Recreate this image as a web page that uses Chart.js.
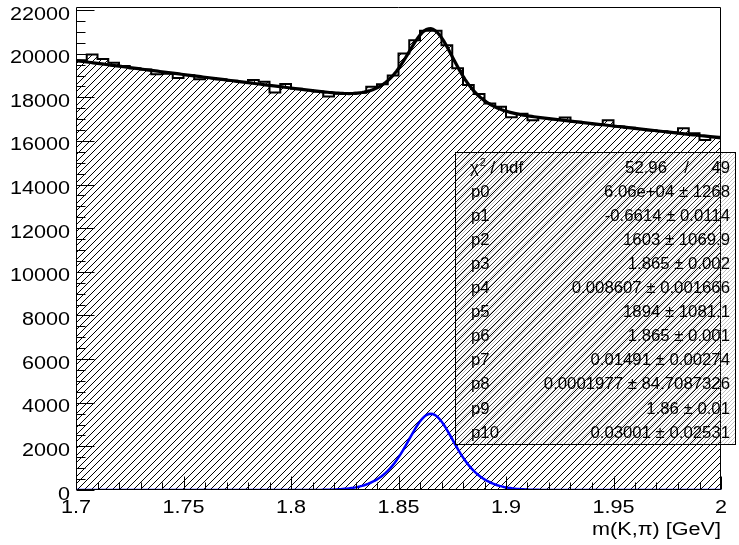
<!DOCTYPE html>
<html>
<head>
<meta charset="utf-8">
<script src="https://cdn.jsdelivr.net/npm/chart.js@4.4.0/dist/chart.umd.min.js"></script>
<style>
  html, body { margin: 0; padding: 0; background: #fff; }
  #wrap { width: 739px; height: 545px; }
</style>
</head>
<body>
<div id="wrap"><canvas id="c" width="739" height="545"></canvas></div>
<script>
// m(K,pi) histogram: 60 bins of 5 MeV between 1.7 and 2.0 GeV
var xMin = 1.7, xMax = 2.0, binWidth = 0.005;
var binCounts = [
  19700, 19960, 19760, 19580, 19430, 19330, 19270, 19060, 19080, 18880,
  19010, 18830, 18890, 18830, 18760, 18700, 18790, 18710, 18220, 18610,
  18390, 18330, 18270, 18040, 18180, 18170, 18210, 18480, 18600, 19000,
  20010, 20620, 21050, 21050, 20390, 19330, 18560, 18150, 17720, 17570,
  17090, 17250, 16950, 17050, 17000, 17080, 16880, 16820, 16770, 16950,
  16660, 16600, 16550, 16490, 16440, 16390, 16580, 16350, 16040, 16190
];

// fit result: expo background + three gaussians
var fitPars = [6.06e4, -0.6614, 1603, 1.865, 0.008607, 1894, 1.865, 0.01491, 0.0001977, 1.86, 0.03001];

// axis ticks
var xTicks = [1.7, 1.75, 1.8, 1.85, 1.9, 1.95, 2.0];
var xTickLabels = ['1.7', '1.75', '1.8', '1.85', '1.9', '1.95', '2'];
var yTicks = [0, 2000, 4000, 6000, 8000, 10000, 12000, 14000, 16000, 18000, 20000, 22000];
var yTickLabels = ['0', '2000', '4000', '6000', '8000', '10000', '12000', '14000', '16000', '18000', '20000', '22000'];
var yMax = 22140;
var xTitle = 'm(K,\u03c0) [GeV]';

// stats box rows
var statNames = ['p0', 'p1', 'p2', 'p3', 'p4', 'p5', 'p6', 'p7', 'p8', 'p9', 'p10'];
var statValues = [
  '6.06e+04 \u00b1 1268', '-0.6614 \u00b1 0.0114', '1603 \u00b1 1069.9', '1.865 \u00b1 0.002',
  '0.008607 \u00b1 0.001666', '1894 \u00b1 1081.1', '1.865 \u00b1 0.001', '0.01491 \u00b1 0.00274',
  '0.0001977 \u00b1 84.7087326', '1.86 \u00b1 0.01', '0.03001 \u00b1 0.02531'
];
var chi2 = '52.96', ndf = '49';

function gaus(x, a, m, s) {
  return a * Math.exp(-0.5 * Math.pow((x - m) / s, 2));
}
function signal(x, p) {
  return gaus(x, p[2], p[3], p[4]) + gaus(x, p[5], p[6], p[7]) + gaus(x, p[8], p[9], p[10]);
}
function total(x, p) {
  return p[0] * Math.exp(p[1] * x) + signal(x, p);
}

// histogram as a stepped line through the bin low edges
var histPts = binCounts.map(function (v, i) {
  return { x: xMin + i * binWidth, y: v };
});
histPts.push({ x: xMax, y: binCounts[binCounts.length - 1] });

var fitPts = [], sigPts = [];
for (var k = 0; k <= 300; k++) {
  var xx = xMin + k * 0.001;
  fitPts.push({ x: xx, y: total(xx, fitPars) });
  sigPts.push({ x: xx, y: signal(xx, fitPars) });
}

function hatch(size, color, width, dash) {
  var c = document.createElement('canvas');
  c.width = size; c.height = size;
  var g = c.getContext('2d');
  g.strokeStyle = color;
  g.lineWidth = width;
  if (dash) g.setLineDash(dash);
  g.beginPath();
  g.moveTo(-1, size + 1); g.lineTo(size + 1, -1);
  g.moveTo(-1, 1); g.lineTo(1, -1);
  g.moveTo(size - 1, size + 1); g.lineTo(size + 1, size - 1);
  g.stroke();
  return g.createPattern(c, 'repeat');
}

var histHatch = hatch(7, '#000', 1);
var boxHatch = hatch(4, 'rgba(120,120,120,0.55)', 0.8);

// axis labels are a bit wider than the plain font
function wideText(ctx, str, x, y, align) {
  ctx.save();
  ctx.translate(x, y);
  ctx.scale(1.2, 1);
  ctx.textAlign = align;
  ctx.fillText(str, 0, 0);
  ctx.restore();
}

var rootFrame = {
  id: 'rootFrame',
  afterDraw: function (chart) {
    var ctx = chart.ctx, a = chart.chartArea;
    var xs = chart.scales.x, ys = chart.scales.y;
    var L = Math.round(a.left) + 0.5, R = Math.round(a.right) - 0.5;
    var T = Math.round(a.top) + 0.5, B = Math.round(a.bottom) - 0.5;
    ctx.save();
    ctx.strokeStyle = '#000';
    ctx.lineWidth = 1;
    ctx.beginPath();
    ctx.moveTo(L, B); ctx.lineTo(L, T); ctx.lineTo(R, T); ctx.lineTo(R, B); ctx.lineTo(L, B);
    ctx.stroke();

    // y ticks: majors from the scale, 4 subdivisions
    var yt = ys.ticks.map(function (t) { return t.value; });
    var ystep = yt[1] - yt[0];
    ctx.beginPath();
    yt.forEach(function (v) {
      var py = Math.round(ys.getPixelForValue(v)) + 0.5;
      ctx.moveTo(L, py); ctx.lineTo(L + 18, py);
      for (var m = 1; m < 4; m++) {
        var vm = v + m * ystep / 4;
        if (vm > ys.max) break;
        var pm = Math.round(ys.getPixelForValue(vm)) + 0.5;
        ctx.moveTo(L, pm); ctx.lineTo(L + 9, pm);
      }
    });
    // x ticks: 5 subdivisions between majors
    var xt = xs.ticks.map(function (t) { return t.value; });
    var xstep = xt[1] - xt[0];
    xt.forEach(function (v) {
      var px = Math.round(xs.getPixelForValue(v)) + 0.5;
      ctx.moveTo(px, B); ctx.lineTo(px, B - 13);
      for (var m = 1; m < 5; m++) {
        var vm = v + m * xstep / 5;
        if (vm > xs.max + 1e-9) break;
        var pm = Math.round(xs.getPixelForValue(vm)) + 0.5;
        ctx.moveTo(pm, B); ctx.lineTo(pm, B - 7);
      }
    });
    ctx.stroke();

    ctx.fillStyle = '#000';
    ctx.font = '18px "Liberation Sans", Arial, sans-serif';
    ctx.textBaseline = 'alphabetic';
    ys.ticks.forEach(function (t) {
      wideText(ctx, t.label, 70, ys.getPixelForValue(t.value) + 9.5, 'right');
    });
    xs.ticks.forEach(function (t) {
      wideText(ctx, t.label, xs.getPixelForValue(t.value), 512.5, 'center');
    });
    wideText(ctx, xTitle, a.right, 535, 'right');

    // stats box
    var bx = 455.5, by = 152.5, bw = 280, bh = 292;
    ctx.fillStyle = boxHatch;
    ctx.fillRect(bx, by, bw, bh);
    ctx.strokeStyle = '#000';
    ctx.strokeRect(bx, by, bw, bh);

    var rowH = 24.1, y0 = 172.5, lx = 470, rx = 730;
    var f = '16.75px "Liberation Sans", Arial, sans-serif';
    ctx.fillStyle = '#000';
    ctx.font = f;
    ctx.textAlign = 'left';
    ctx.fillText('\u03c7', lx, y0);
    var cw = ctx.measureText('\u03c7').width;
    ctx.font = '11px "Liberation Sans", Arial, sans-serif';
    ctx.fillText('2', lx + cw + 1, y0 - 7);
    ctx.font = f;
    ctx.fillText(' / ndf', lx + cw + 7, y0);
    // chi2 / ndf value, spread out like the ROOT latex
    ctx.textAlign = 'right';
    ctx.fillText(ndf, rx, y0);
    ctx.textAlign = 'center';
    ctx.fillText('/', rx - 43.5, y0);
    ctx.textAlign = 'right';
    ctx.fillText(chi2, rx - 63, y0);
    statNames.forEach(function (n, i) {
      var ty = y0 + (i + 1) * rowH;
      ctx.textAlign = 'left';
      ctx.fillText(n, lx + 1, ty);
      ctx.textAlign = 'right';
      ctx.fillText(statValues[i], rx, ty);
    });
    ctx.restore();
  }
};

new Chart(document.getElementById('c'), {
  type: 'line',
  data: {
    datasets: [
      {
        label: 'data',
        data: histPts,
        stepped: true,
        fill: 'origin',
        backgroundColor: histHatch,
        borderColor: '#000',
        borderWidth: 2,
        pointRadius: 0,
        order: 3
      },
      {
        label: 'signal',
        data: sigPts,
        borderColor: '#0000ff',
        borderWidth: 2.5,
        pointRadius: 0,
        fill: false,
        order: 2
      },
      {
        label: 'fit',
        data: fitPts,
        borderColor: '#000',
        borderWidth: 3.2,
        pointRadius: 0,
        fill: false,
        order: 1
      }
    ]
  },
  options: {
    responsive: false,
    animation: false,
    layout: { padding: { left: 76, top: 7, right: 18, bottom: 55 } },
    plugins: { legend: { display: false }, tooltip: { enabled: false } },
    scales: {
      x: {
        type: 'linear', min: xMin, max: xMax,
        ticks: { display: false },
        grid: { display: false }, border: { display: false },
        afterBuildTicks: function (s) {
          s.ticks = xTicks.map(function (v) { return { value: v }; });
        },
        afterTickToLabelConversion: function (s) {
          s.ticks.forEach(function (t, i) { t.label = xTickLabels[i]; });
        },
        afterFit: function (s) { s.height = 0; }
      },
      y: {
        min: 0, max: yMax,
        ticks: { display: false },
        grid: { display: false }, border: { display: false },
        afterBuildTicks: function (s) {
          s.ticks = yTicks.map(function (v) { return { value: v }; });
        },
        afterTickToLabelConversion: function (s) {
          s.ticks.forEach(function (t, i) { t.label = yTickLabels[i]; });
        },
        afterFit: function (s) { s.width = 0; }
      }
    }
  },
  plugins: [rootFrame]
});
</script>
</body>
</html>
